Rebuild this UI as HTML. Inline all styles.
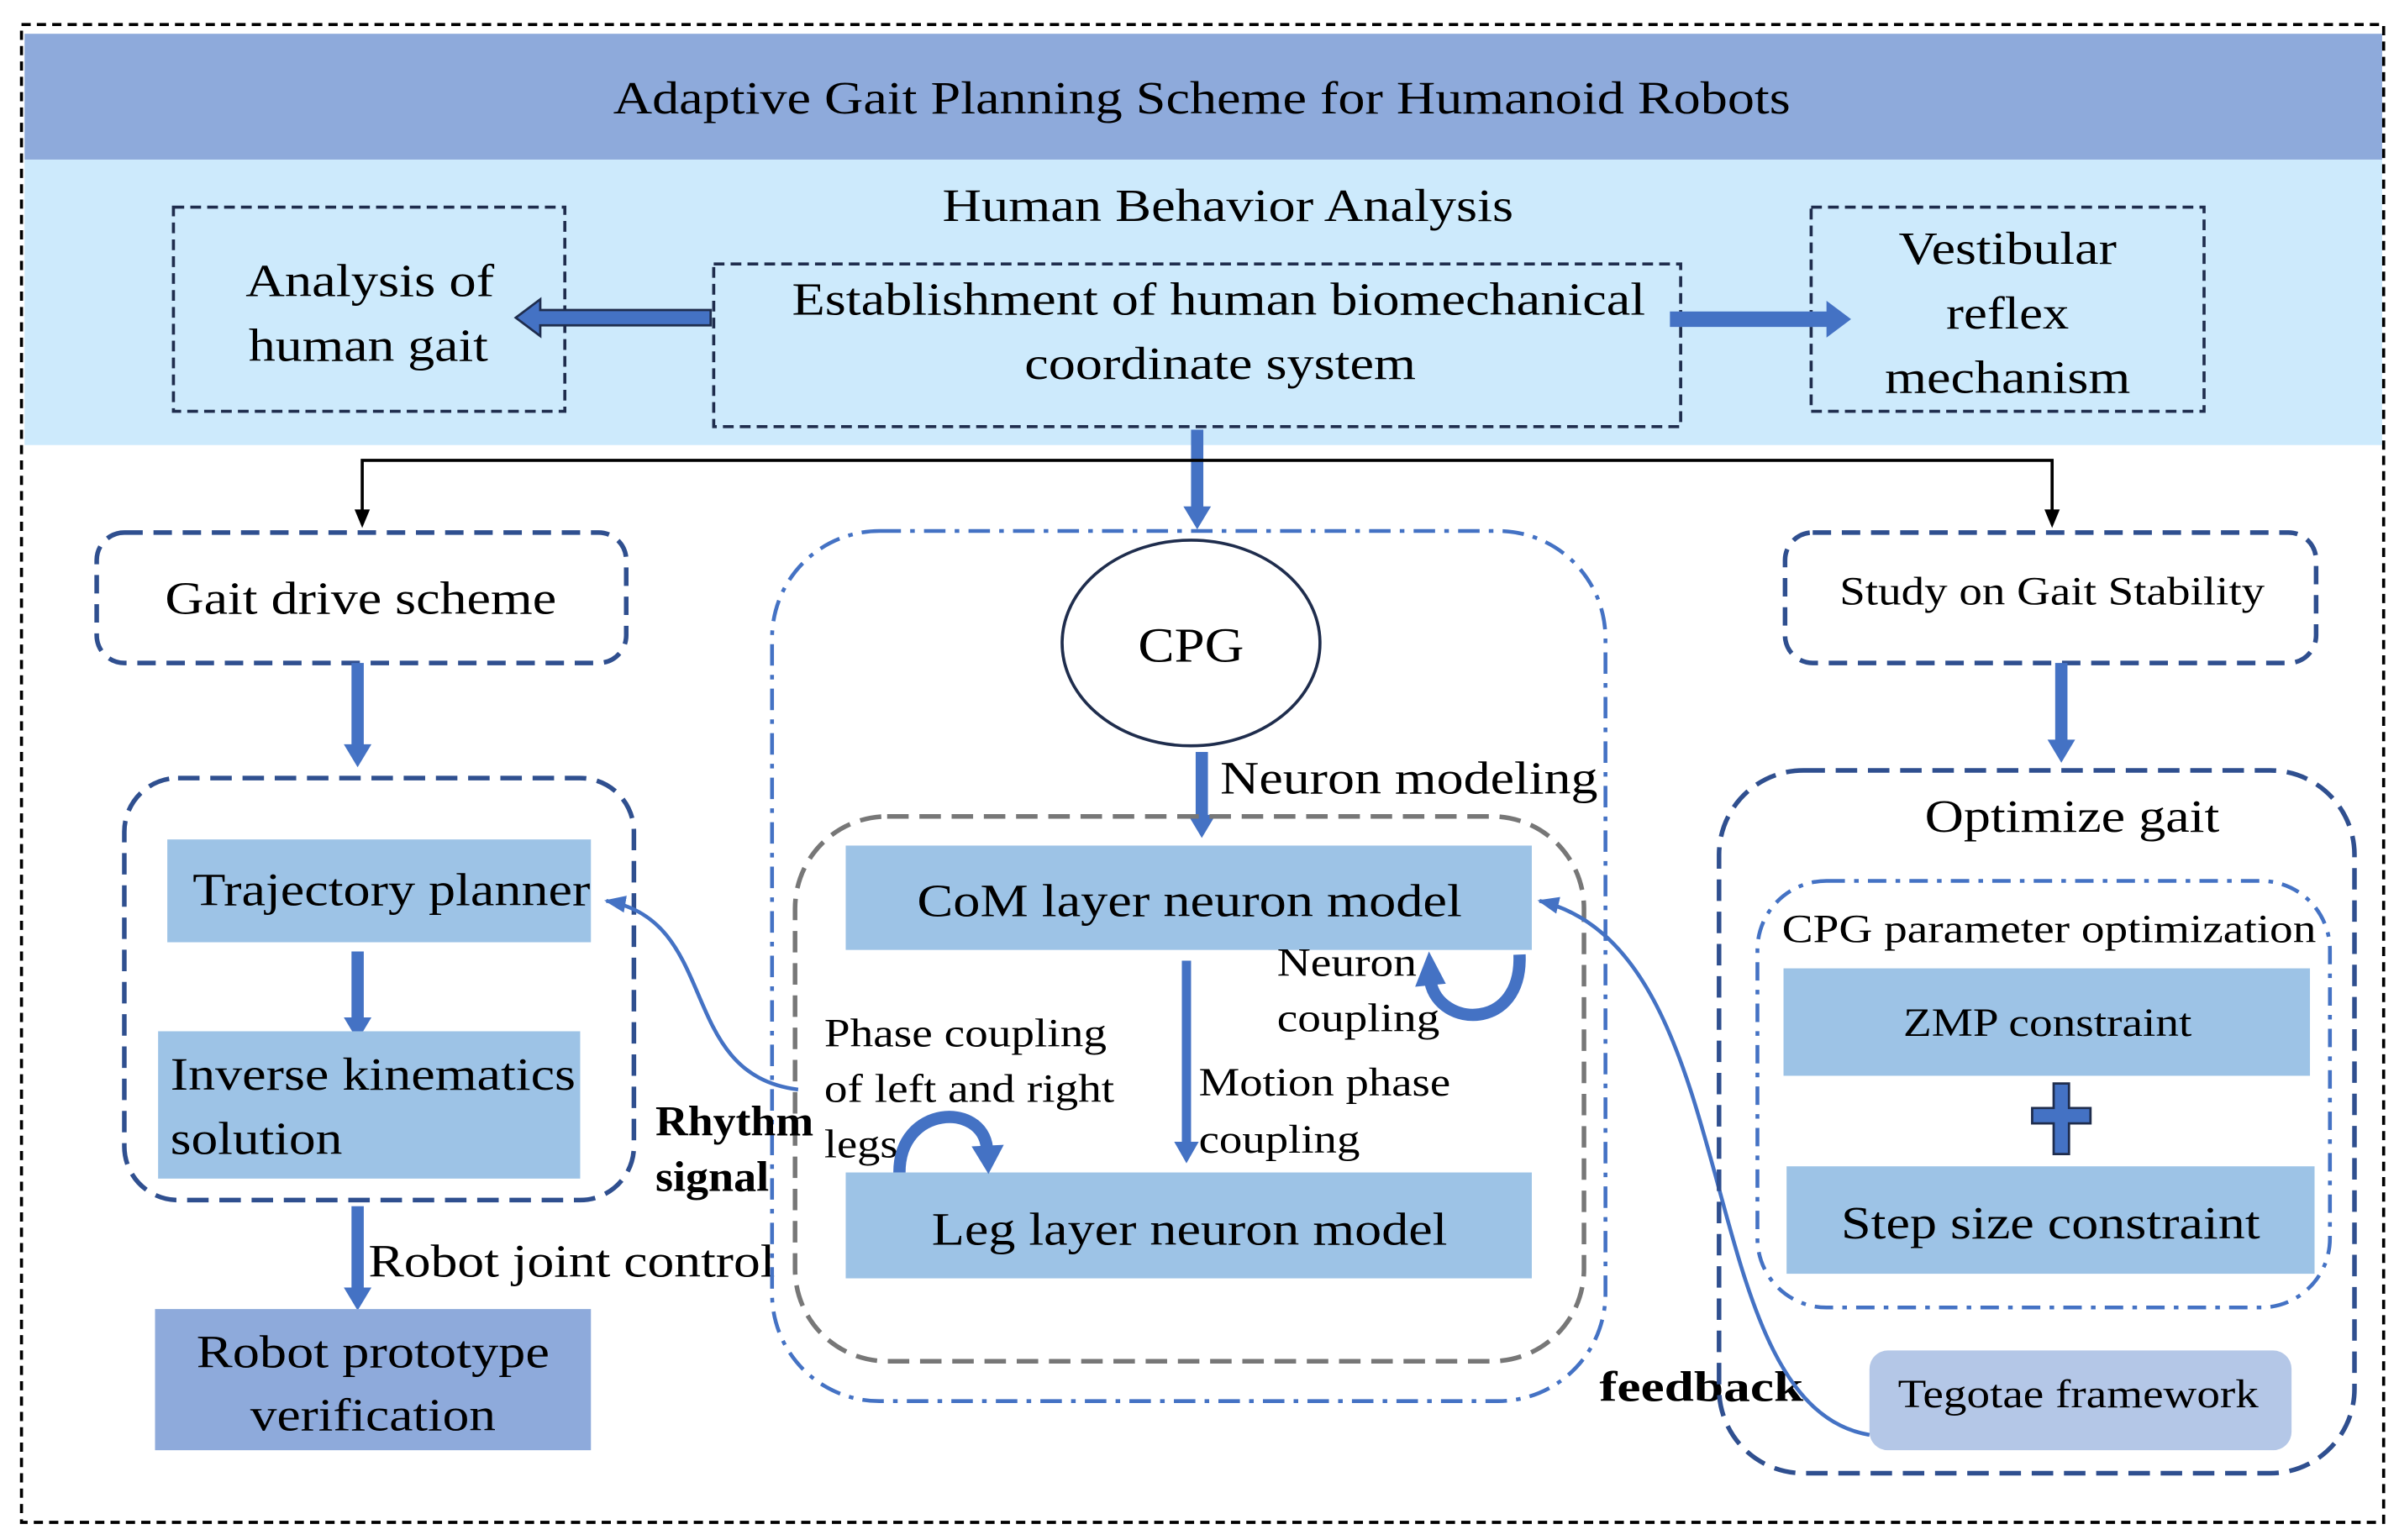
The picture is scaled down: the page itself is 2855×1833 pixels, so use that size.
<!DOCTYPE html>
<html><head><meta charset="utf-8"><style>html,body{margin:0;padding:0;background:#fff}svg{display:block}</style></head><body>
<svg width="2855" height="1833" viewBox="0 0 1563 1003.5" xmlns="http://www.w3.org/2000/svg" font-family="'Liberation Serif', 'Times New Roman', serif">
<defs>
<marker id="at" viewBox="0 0 10 10" refX="9" refY="5" markerWidth="14" markerHeight="14" orient="auto" markerUnits="userSpaceOnUse"><path d="M0,1L10,5L0,9z" fill="#4472c4"/></marker>
</defs>
<rect x="16" y="22" width="1536" height="82" fill="#8eaadb"/>
<rect x="16" y="104" width="1536" height="186" fill="#cdeafc"/>
<rect x="14" y="16" width="1539" height="976" fill="none" stroke="#000" stroke-width="2" stroke-dasharray="6,4"/>
<g font-size="30" text-anchor="middle" lengthAdjust="spacingAndGlyphs">
<text x="783" y="74" textLength="767" lengthAdjust="spacingAndGlyphs">Adaptive Gait Planning Scheme for Humanoid Robots</text>
<text x="800" y="144" textLength="372" lengthAdjust="spacingAndGlyphs">Human Behavior Analysis</text>
</g>
<g fill="none" stroke="#1f2d4d" stroke-width="2" stroke-dasharray="7,4">
<rect x="113" y="135" width="255" height="133"/>
<rect x="465" y="172" width="630" height="106"/>
<rect x="1180" y="135" width="256" height="133"/>
</g>
<g font-size="30" text-anchor="middle">
<text x="241" y="193" textLength="162" lengthAdjust="spacingAndGlyphs">Analysis of</text>
<text x="240" y="235" textLength="156" lengthAdjust="spacingAndGlyphs">human gait</text>
<text x="794" y="205" textLength="556" lengthAdjust="spacingAndGlyphs">Establishment of human biomechanical</text>
<text x="795" y="247" textLength="255" lengthAdjust="spacingAndGlyphs">coordinate system</text>
<text x="1308" y="172" textLength="142" lengthAdjust="spacingAndGlyphs">Vestibular</text>
<text x="1308" y="214" textLength="80" lengthAdjust="spacingAndGlyphs">reflex</text>
<text x="1308" y="256" textLength="160" lengthAdjust="spacingAndGlyphs">mechanism</text>
</g>
<path d="M463,202H352V195L336,207L352,219V212H463z" fill="#4472c4" stroke="#1f2d4d" stroke-width="1.5"/>
<path d="M1088,203H1190V196L1206,208L1190,220V213H1088z" fill="#4472c4"/>
<g fill="#4472c4">
<rect x="776" y="280" width="8" height="52"/><path d="M771,330h18l-9,15z"/>
</g>
<polyline points="236,333 236,300 1337,300 1337,333" fill="none" stroke="#000" stroke-width="2"/>
<path d="M231,332h10l-5,12z M1332,332h10l-5,12z" fill="#000"/>
<!-- left column -->
<rect x="63" y="347" width="345" height="85" rx="18" fill="none" stroke="#2f4f8f" stroke-width="3" stroke-dasharray="12,7"/>
<text x="235" y="400" font-size="30" text-anchor="middle" textLength="255" lengthAdjust="spacingAndGlyphs">Gait drive scheme</text>
<g fill="#4472c4">
<rect x="229" y="432" width="8" height="55"/><path d="M224,485h18l-9,15z"/>
<rect x="229" y="620" width="8" height="45"/><path d="M224,663h18l-9,15z"/>
<rect x="229" y="786" width="8" height="55"/><path d="M224,839h18l-9,15z"/>
</g>
<rect x="81" y="507" width="332" height="275" rx="35" fill="none" stroke="#2f4f8f" stroke-width="3" stroke-dasharray="14,7"/>
<rect x="109" y="547" width="276" height="67" fill="#9dc3e6"/>
<text x="255" y="590" font-size="30" text-anchor="middle" textLength="259" lengthAdjust="spacingAndGlyphs">Trajectory planner</text>
<rect x="103" y="672" width="275" height="96" fill="#9dc3e6"/>
<text x="243" y="710" font-size="30" text-anchor="middle" textLength="264" lengthAdjust="spacingAndGlyphs">Inverse kinematics</text>
<text x="111" y="752" font-size="30" textLength="112" lengthAdjust="spacingAndGlyphs">solution</text>
<text x="240" y="832" font-size="30" textLength="265" lengthAdjust="spacingAndGlyphs">Robot joint control</text>
<rect x="101" y="853" width="284" height="92" fill="#8eaadb"/>
<text x="243" y="891" font-size="30" text-anchor="middle" textLength="230" lengthAdjust="spacingAndGlyphs">Robot prototype</text>
<text x="243" y="932" font-size="30" text-anchor="middle" textLength="160" lengthAdjust="spacingAndGlyphs">verification</text>
<!-- center -->
<rect x="503" y="346" width="543" height="567" rx="70" fill="none" stroke="#4472c4" stroke-width="2.5" stroke-dasharray="14,6,3,6"/>
<ellipse cx="776" cy="419" rx="84" ry="67" fill="#fff" stroke="#1f2d4d" stroke-width="2"/>
<text x="776" y="431" font-size="32" text-anchor="middle" textLength="69" lengthAdjust="spacingAndGlyphs">CPG</text>
<g fill="#4472c4">
<rect x="779" y="490" width="8" height="43"/><path d="M774,531h18l-9,15z"/>
</g>
<text x="795" y="517" font-size="30" textLength="246" lengthAdjust="spacingAndGlyphs">Neuron modeling</text>
<rect x="518" y="532" width="514" height="355" rx="60" fill="none" stroke="#777" stroke-width="3" stroke-dasharray="14,7"/>
<rect x="551" y="551" width="447" height="68" fill="#9dc3e6"/>
<text x="775" y="597" font-size="30" text-anchor="middle" textLength="355" lengthAdjust="spacingAndGlyphs">CoM layer neuron model</text>
<rect x="551" y="764" width="447" height="69" fill="#9dc3e6"/>
<text x="775" y="811" font-size="30" text-anchor="middle" textLength="336" lengthAdjust="spacingAndGlyphs">Leg layer neuron model</text>
<g fill="#4472c4">
<rect x="770" y="626" width="6" height="120"/><path d="M765,744h16l-8,14z"/>
</g>
<g font-size="26">
<text x="832" y="636" textLength="91" lengthAdjust="spacingAndGlyphs">Neuron</text>
<text x="832" y="672" textLength="106" lengthAdjust="spacingAndGlyphs">coupling</text>
<text x="537" y="682" textLength="184" lengthAdjust="spacingAndGlyphs">Phase coupling</text>
<text x="537" y="718" textLength="189" lengthAdjust="spacingAndGlyphs">of left and right</text>
<text x="537" y="754" textLength="48" lengthAdjust="spacingAndGlyphs">legs</text>
<text x="781" y="714" textLength="164" lengthAdjust="spacingAndGlyphs">Motion phase</text>
<text x="781" y="751" textLength="105" lengthAdjust="spacingAndGlyphs">coupling</text>
</g>
<path d="M990,622C992,672 938,670 932,640" fill="none" stroke="#4472c4" stroke-width="8"/>
<path d="M922,643L931,620L942,641z" fill="#4472c4"/>
<path d="M586,764C586,720 640,718 643,748" fill="none" stroke="#4472c4" stroke-width="8"/>
<path d="M633,747L644,765L654,746z" fill="#4472c4"/>
<g font-size="28" font-weight="bold">
<text x="427" y="740" textLength="103" lengthAdjust="spacingAndGlyphs">Rhythm</text>
<text x="427" y="776" textLength="74" lengthAdjust="spacingAndGlyphs">signal</text>
<text x="1042" y="913" textLength="133" lengthAdjust="spacingAndGlyphs">feedback</text>
</g>
<path d="M520,710C440,700 470,600 395,587" fill="none" stroke="#4472c4" stroke-width="2.5" marker-end="url(#at)"/>
<path d="M1218,935C1100,915 1140,620 1003,587" fill="none" stroke="#4472c4" stroke-width="2.5" marker-end="url(#at)"/>
<!-- right -->
<rect x="1163" y="347" width="346" height="85" rx="18" fill="none" stroke="#2f4f8f" stroke-width="3" stroke-dasharray="12,7"/>
<text x="1337" y="394" font-size="26" text-anchor="middle" textLength="277" lengthAdjust="spacingAndGlyphs">Study on Gait Stability</text>
<g fill="#4472c4">
<rect x="1339" y="432" width="8" height="52"/><path d="M1334,482h18l-9,15z"/>
</g>
<rect x="1120" y="502" width="414" height="458" rx="55" fill="none" stroke="#2f4f8f" stroke-width="3" stroke-dasharray="14,7"/>
<text x="1350" y="542" font-size="30" text-anchor="middle" textLength="192" lengthAdjust="spacingAndGlyphs">Optimize gait</text>
<rect x="1145" y="574" width="373" height="278" rx="45" fill="none" stroke="#4472c4" stroke-width="2.5" stroke-dasharray="12,6,3,6"/>
<text x="1335" y="614" font-size="26" text-anchor="middle" textLength="348" lengthAdjust="spacingAndGlyphs">CPG parameter optimization</text>
<rect x="1162" y="631" width="343" height="70" fill="#9dc3e6"/>
<text x="1334" y="675" font-size="26" text-anchor="middle" textLength="188" lengthAdjust="spacingAndGlyphs">ZMP constraint</text>
<path d="M1338,706h10v16h14v10h-14v20h-10v-20h-14v-10h14z" fill="#4472c4" stroke="#1f2d4d" stroke-width="1.5"/>
<rect x="1164" y="760" width="344" height="70" fill="#9dc3e6"/>
<text x="1336" y="807" font-size="30" text-anchor="middle" textLength="273" lengthAdjust="spacingAndGlyphs">Step size constraint</text>
<rect x="1218" y="880" width="275" height="65" rx="12" fill="#b4c7e7"/>
<text x="1354" y="917" font-size="26" text-anchor="middle" textLength="235" lengthAdjust="spacingAndGlyphs">Tegotae framework</text>
</svg>
</body></html>
